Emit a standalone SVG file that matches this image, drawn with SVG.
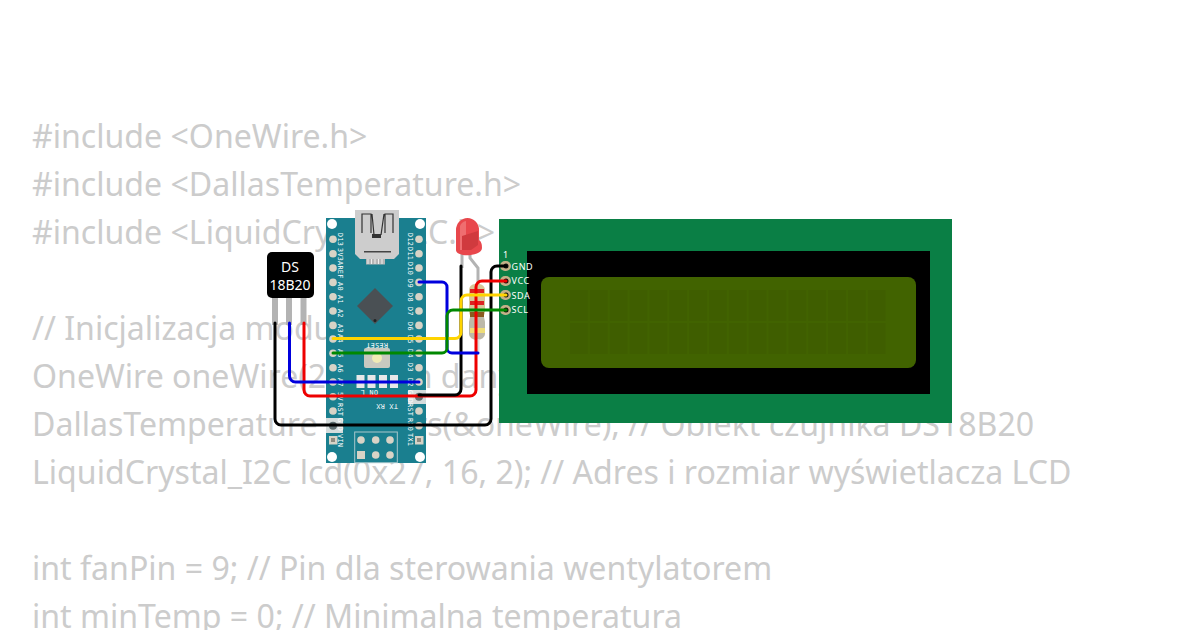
<svg xmlns="http://www.w3.org/2000/svg" width="1200" height="630" viewBox="0 0 1200 630">
<defs>
<pattern id="cell" x="570" y="290" width="19.85" height="33" patternUnits="userSpaceOnUse"><rect width="18" height="31" fill="#3f5e00"/></pattern>
</defs>
<style>
.code{font-family:"Noto Sans","Open Sans",sans-serif;font-size:32.100px;fill:#ccc}
.pin{fill:#d8d3c6}
.lab{font-family:"DejaVu Sans Mono","Liberation Mono",monospace;font-size:6.800px;fill:#fff;letter-spacing:.3px}
.w{fill:none;stroke-width:3;stroke-linecap:round;stroke-linejoin:round}
.lg{fill:#b3b3b3}
.lcdt{font-family:"Noto Sans",sans-serif;font-size:9px;fill:#fff;letter-spacing:.6px}
.ds{font-family:"Noto Sans",sans-serif;font-size:14px;fill:#fff;text-anchor:middle}
</style>
<g id="code">
<text class="code" x="32" y="148">#include &lt;OneWire.h&gt;</text>
<text class="code" x="32" y="196">#include &lt;DallasTemperature.h&gt;</text>
<text class="code" x="32" y="244">#include &lt;LiquidCrystal_I2C.h&gt;</text>
<text class="code" x="32" y="340">// Inicjalizacja modułów</text>
<text class="code" x="32" y="388">OneWire oneWire(2); // Pin danych</text>
<text class="code" x="32" y="436">DallasTemperature sensors(&amp;oneWire); // Obiekt czujnika DS18B20</text>
<text class="code" x="32" y="484">LiquidCrystal_I2C lcd(0x27, 16, 2); // Adres i rozmiar wyświetlacza LCD</text>
<text class="code" x="32" y="580">int fanPin = 9; // Pin dla sterowania wentylatorem</text>
<text class="code" x="32" y="628">int minTemp = 0; // Minimalna temperatura</text>
</g>
<g id="nano">
<rect x="326" y="218" width="100" height="245" fill="#1a7f8f"/>
<circle cx="332" cy="224" r="5" fill="#fff"/><circle cx="420" cy="224" r="5" fill="#fff"/>
<circle cx="332" cy="457" r="5" fill="#fff"/><circle cx="420" cy="457" r="5" fill="#fff"/>
<g class="pin">
<circle cx="333" cy="239.300" r="3.800"/><circle cx="333" cy="253.700" r="3.800"/><circle cx="333" cy="268" r="3.800"/><circle cx="333" cy="282.400" r="3.800"/><circle cx="333" cy="296.700" r="3.800"/><circle cx="333" cy="311" r="3.800"/><circle cx="333" cy="325.400" r="3.800"/><circle cx="333" cy="339" r="3.800"/><circle cx="333" cy="353.300" r="3.800"/><circle cx="333" cy="367.700" r="3.800"/><circle cx="333" cy="382" r="3.800"/><circle cx="333" cy="396.700" r="3.800"/><circle cx="333" cy="411" r="3.800"/>
<circle cx="419" cy="239.300" r="3.800"/><circle cx="419" cy="253.700" r="3.800"/><circle cx="419" cy="268" r="3.800"/><circle cx="419" cy="282.400" r="3.800"/><circle cx="419" cy="296.700" r="3.800"/><circle cx="419" cy="311" r="3.800"/><circle cx="419" cy="325.400" r="3.800"/><circle cx="419" cy="339" r="3.800"/><circle cx="419" cy="353.300" r="3.800"/><circle cx="419" cy="367.700" r="3.800"/><circle cx="419" cy="382" r="3.800"/><circle cx="419" cy="411" r="3.800"/><circle cx="419" cy="425.700" r="3.800"/>
</g>
<rect x="326" y="418" width="17" height="15" fill="#d5dcdc"/><circle cx="333" cy="425.700" r="4" fill="#5f6f72"/>
<rect x="408" y="390" width="18" height="14" fill="#d5dcdc"/><circle cx="419" cy="396.700" r="4" fill="#5f6f72"/>
<rect x="329" y="436" width="8.500" height="8.500" fill="#d8d3c6"/><rect x="331" y="438" width="4" height="4" fill="#8f8c80"/>
<rect x="415" y="436" width="8.500" height="8.500" fill="#d8d3c6"/><rect x="417" y="438" width="4" height="4" fill="#8f8c80"/>
<path d="M355 210H399V254L394 259H360L355 254Z" fill="#cdcdcd"/>
<path d="M362 233V214H371V233M372 214L374 235M381 235L384 214M385 233V214H393V233" fill="none" stroke="#333" stroke-width="1.200"/>
<rect x="372" y="234" width="9" height="4" fill="#333"/><rect x="364" y="251" width="27" height="1.500" fill="#444"/>
<rect x="366" y="259" width="19" height="5.500" fill="#b5b5b5"/>
<path d="M368 259v5M371.500 259v5M375 259v5M378.500 259v5M382 259v5" stroke="#eee" stroke-width="1"/>
<path d="M375 288L393 306L375 324L357 306Z" fill="#4a5054"/><circle cx="375" cy="320.500" r="1.500" fill="#222"/>
<rect x="364" y="348" width="26" height="20" rx="2" fill="#c9c9c0"/><circle cx="377" cy="358" r="5" fill="#f0ebb5"/>
<rect x="356.500" y="375" width="8" height="13" fill="#e8e8e8"/><rect x="367.500" y="375" width="8" height="13" fill="#e8e8e8"/><rect x="379" y="375" width="8" height="13" fill="#e8e8e8"/><rect x="390" y="375" width="8" height="13" fill="#e8e8e8"/>
<rect x="354.700" y="432" width="42.600" height="30.700" fill="none" stroke="#a9c8cc" stroke-width="1"/>
<g class="pin"><circle cx="361" cy="440" r="3.800"/><circle cx="375.700" cy="440" r="3.800"/><circle cx="390" cy="440" r="3.800"/><rect x="357" y="451" width="8" height="8"/><circle cx="375.700" cy="455" r="3.800"/><circle cx="390" cy="455" r="3.800"/></g>
<g class="lab">
<text transform="translate(338 233) rotate(90)">D13</text><text transform="translate(338 248) rotate(90)">3V3</text><text transform="translate(338 261) rotate(90)">AREF</text><text transform="translate(338 282) rotate(90)">A0</text><text transform="translate(338 295) rotate(90)">A1</text><text transform="translate(338 309) rotate(90)">A2</text><text transform="translate(338 324) rotate(90)">A3</text><text transform="translate(338 334) rotate(90)">A4</text><text transform="translate(338 349) rotate(90)">A5</text><text transform="translate(338 364) rotate(90)">A6</text><text transform="translate(338 378) rotate(90)">A7</text><text transform="translate(338 392) rotate(90)">5V</text><text transform="translate(338 403) rotate(90)">RST</text><text transform="translate(338 418) rotate(90)">GND</text><text transform="translate(338 434) rotate(90)">VIN</text>
<text transform="translate(408 233) rotate(90)">D12</text><text transform="translate(408 247) rotate(90)">D11</text><text transform="translate(408 262) rotate(90)">D10</text><text transform="translate(408 279) rotate(90)">D9</text><text transform="translate(408 293) rotate(90)">D8</text><text transform="translate(408 307) rotate(90)">D7</text><text transform="translate(408 322) rotate(90)">D6</text><text transform="translate(408 335) rotate(90)">D5</text><text transform="translate(408 349) rotate(90)">D4</text><text transform="translate(408 363) rotate(90)">D3</text><text transform="translate(408 378) rotate(90)">D2</text><text transform="translate(408 390) rotate(90)">GND</text><text transform="translate(408 403) rotate(90)">RST</text><text transform="translate(408 418) rotate(90)">RX0</text><text transform="translate(408 433) rotate(90)">TX1</text>
<text transform="translate(388 343) rotate(180)">RESET</text><text transform="translate(378 390) rotate(180)">ON L</text><text transform="translate(398 404) rotate(180)">TX RX</text>
</g>
</g>
<g id="ds18b20">
<rect class="lg" x="272" y="295" width="6" height="30"/><rect class="lg" x="286" y="295" width="6" height="30"/><rect class="lg" x="300.500" y="295" width="6" height="30"/>
<rect x="267" y="252" width="47" height="46" rx="5" fill="#000"/>
<text class="ds" x="290" y="272">DS</text>
<text class="ds" x="290" y="290">18B20</text>
</g>
<g id="led">
<path d="M462 250V268M470 250V258L478 268V285" fill="none" stroke="#b3b3b3" stroke-width="3"/>
<path d="M456 250V230a11.500 12 0 0 1 23 0V240C482 242 482 246 482 248C482 254 470 256 463 255C458 254 456 252 456 250Z" fill="#e8474c"/>
<path d="M460 226a8 8 0 0 1 6-5V250H460Z" fill="#ef6e70"/>
<path d="M462 236L478 231V245L471 250H462Z" fill="#d03a3e"/>
</g>
<g id="resistor">
<rect x="469" y="284" width="16" height="34" rx="6" fill="#d8c89a"/>
<rect x="470" y="289" width="14" height="4" fill="#d22"/><rect x="470" y="301" width="14" height="4" fill="#d22"/><rect x="470" y="312" width="14" height="5" fill="#8a5a20"/>
<path d="M470 317h14l1 5v12a8 6 0 0 1-16 0v-12z" fill="#bdb9a8"/>
<rect x="470" y="328" width="15" height="5" fill="#eedd77"/>
<path d="M478 339V353" stroke="#ddd" stroke-width="3"/>
</g>
<g id="lcd">
<rect x="499" y="219" width="453" height="204" fill="#0a7f45"/>
<rect x="527" y="251" width="403" height="143" fill="#000"/>
<rect x="541" y="277" width="375" height="91" rx="8" fill="#416300"/>
<rect x="570" y="290" width="317" height="64" fill="url(#cell)"/>
<g fill="#c4b188"><rect x="500" y="261" width="11" height="10" rx="5"/><rect x="500" y="276" width="11" height="10" rx="5"/><rect x="500" y="290" width="11" height="10" rx="5"/><rect x="500" y="305" width="11" height="10" rx="5"/></g>
<g fill="#111"><circle cx="506" cy="266" r="2.500"/><circle cx="506" cy="281" r="2.500"/><circle cx="506" cy="295" r="2.500"/><circle cx="506" cy="310" r="2.500"/></g>
<text class="lcdt" x="503" y="258">1</text><text class="lcdt" x="511.500" y="269.500">GND</text><text class="lcdt" x="511.500" y="284">VCC</text><text class="lcdt" x="511.500" y="298.500">SDA</text><text class="lcdt" x="511.500" y="313">SCL</text>
</g>
<g id="connectors">
<path class="w" stroke="#000" d="M275 323V419a6 6 0 0 0 6 6H485a6 6 0 0 0 6-6V272a6 6 0 0 1 6-6H506"/>
<path class="w" stroke="#e00" d="M304 323V390a6 6 0 0 0 6 6H470a6 6 0 0 0 6-6V287a6 6 0 0 1 6-6H506"/>
<path class="w" stroke="#00d" d="M289.500 323V376a6 6 0 0 0 6 6H419"/>
<path class="w" stroke="#000" d="M419 395H455a6 6 0 0 0 6-6V266"/>
<path class="w" stroke="#00d" d="M419 282H442a5 5 0 0 1 5 5V348a5 5 0 0 0 5 5H478"/>
<path class="w" stroke="#ffd400" d="M333 338.500H455a6 6 0 0 0 6-6V301a6 6 0 0 1 6-6H506"/>
<path class="w" stroke="#080" d="M333 353H442a5 5 0 0 0 5-5V316a6 6 0 0 1 6-6H506"/>
</g>
</svg>
